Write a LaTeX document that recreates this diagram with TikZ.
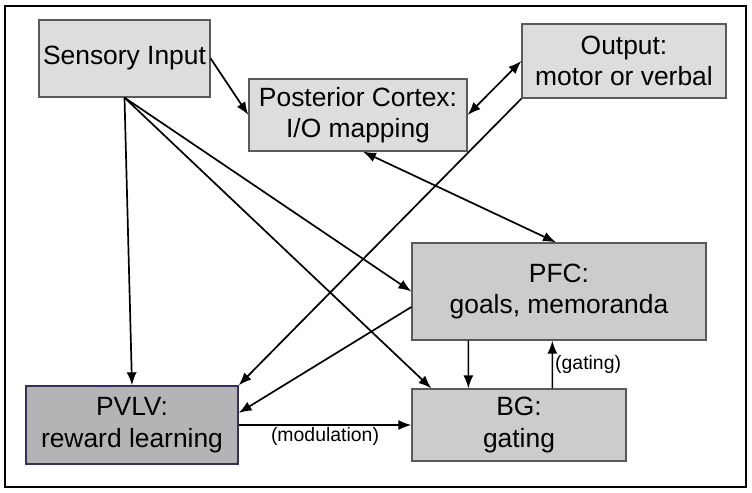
\documentclass[tikz,border=0pt]{standalone}
\usepackage{fontspec}
\setmainfont{Liberation Sans}
\usetikzlibrary{arrows.meta}

\definecolor{lightbox}{HTML}{DDDDDD}
\definecolor{midbox}{HTML}{CCCCCC}
\definecolor{darkbox}{HTML}{B4B3B6}
\definecolor{boxline}{HTML}{5A5A5A}
\definecolor{pvlvline}{HTML}{3C2E5A}

\begin{document}
\begin{tikzpicture}[x=1bp, y=-1bp,
    box/.style={draw=boxline, line width=1.3bp, align=center, inner sep=0pt,
        font=\fontsize{26.5}{31.5}\selectfont},
    link/.style={-{Latex[length=13bp,width=10bp]}, line width=1.7bp},
    both/.style={{Latex[length=13bp,width=10bp]}-{Latex[length=13bp,width=10bp]}, line width=1.7bp},
    tag/.style={font=\fontsize{19.5}{23}\selectfont, inner sep=2bp}]
    \useasboundingbox (0,0) rectangle (752,493);
    \draw [line width=2.6bp] (5,6) rectangle (746,487);

    \node [box, fill=lightbox, minimum width=171bp, minimum height=77bp] (sens) at (124.5,58.5) {\raisebox{-3bp}{Sensory Input}};
    \node [box, fill=lightbox, minimum width=218bp, minimum height=72bp] (pc) at (358,115) {Posterior Cortex:\\I/O mapping};
    \node [box, fill=lightbox, minimum width=204bp, minimum height=74bp] (out) at (624,61) {Output:\\motor or verbal};
    \node [box, fill=midbox, minimum width=294bp, minimum height=97bp] (pfc) at (559,291.5) {PFC:\\goals, memoranda};
    \node [box, fill=midbox, minimum width=214bp, minimum height=72bp] (bg) at (519,425) {BG:\\gating};
    \node [box, fill=darkbox, draw=pvlvline, minimum width=212bp, minimum height=78bp] (pvlv) at (132,425) {PVLV:\\reward learning};

    \draw [link] (sens.east) -- (pc.west);
    \draw [link] (sens.south) -- (pvlv.north);
    \draw [link] (sens.south) -- (pfc.west);
    \draw [link] (sens.south) -- ([xshift=20bp]bg.north west);
    \draw [link] (out.south west) -- (pvlv.north east);
    \draw [link] ([yshift=-15.5bp]pfc.west) -- ([yshift=12bp]pvlv.east);
    \draw [both] (pc.east) -- (out.west);
    \draw [both] ([xshift=5bp]pc.south) -- ([xshift=-3bp]pfc.north);
    \draw [link] ([xshift=57bp]pfc.south west) -- ([xshift=57bp]bg.north west);
    \draw [link] ([xshift=141bp]bg.north west) -- node [tag, right] (gatetag) {(gating)} ([xshift=141bp]pfc.south west);
    \draw [link] (pvlv.east) -- node [tag, below] (modtag) {(modulation)} (bg.west);
\end{tikzpicture}
\end{document}
